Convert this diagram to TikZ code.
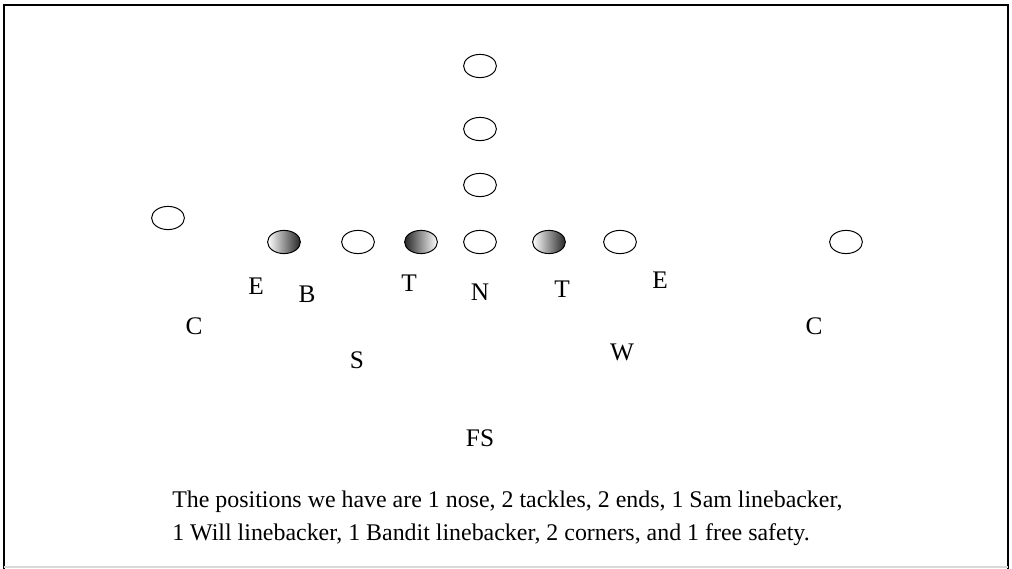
\documentclass[tikz,border=0pt]{standalone}
\usepackage{fontspec}
\setmainfont{Liberation Serif}
\usetikzlibrary{shapes.geometric,positioning}

\begin{document}
\begin{tikzpicture}[
    x=0.025cm, y=-0.025cm,
    player/.style={ellipse, draw, line width=0.7pt, fill=white, minimum width=0.82cm, minimum height=0.58cm, inner sep=0pt},
    lineman/.style={player, left color=white, right color=black!85},
    linemanrev/.style={player, left color=black!85, right color=white},
    poslabel/.style={font=\fontsize{18}{20}\selectfont, inner sep=0pt},
    caption/.style={font=\fontsize{17}{23.2}\selectfont, align=left, anchor=west, inner sep=0pt}
]
    \useasboundingbox (0,0) rectangle (1012,569);
    % frame
    \draw[line width=1.6pt] (4,569) -- (4,5) -- (1008,5) -- (1008,569);
    \draw[black!15, line width=0.8pt] (4,567) -- (1008,567);

    % offense / defense markers
    \node[player] (o1) at (480,66) {};
    \node[player] (o2) at (480,129) {};
    \node[player] (o3) at (480,185) {};
    \node[player] (nose) at (480,242) {};
    \node[player] (cornerL) at (168,218) {};
    \node[lineman] (endL) at (284,242) {};
    \node[player] (sam) at (358,242) {};
    \node[linemanrev] (tackleL) at (421,242) {};
    \node[lineman] (tackleR) at (549,242) {};
    \node[player] (endR) at (620,242) {};
    \node[player] (cornerR) at (846,242) {};

    % position letters
    \node[poslabel] (lE1) at (256,286) {E};
    \node[poslabel] (lB) at (307,294) {B};
    \node[poslabel] (lT1) at (409,283) {T};
    \node[poslabel] (lN) at (480,292) {N};
    \node[poslabel] (lT2) at (562,289) {T};
    \node[poslabel] (lE2) at (660,280) {E};
    \node[poslabel] (lC1) at (194,326) {C};
    \node[poslabel] (lC2) at (814,326) {C};
    \node[poslabel] (lS) at (357,360) {S};
    \node[poslabel] (lW) at (622,352) {W};
    \node[poslabel] (lFS) at (480,438) {FS};

    \node[caption] (note) at (172,518) {The positions we have are 1 nose, 2 tackles, 2 ends, 1 Sam linebacker,\\
        1 Will linebacker, 1 Bandit linebacker, 2 corners, and 1 free safety.};
\end{tikzpicture}
\end{document}
